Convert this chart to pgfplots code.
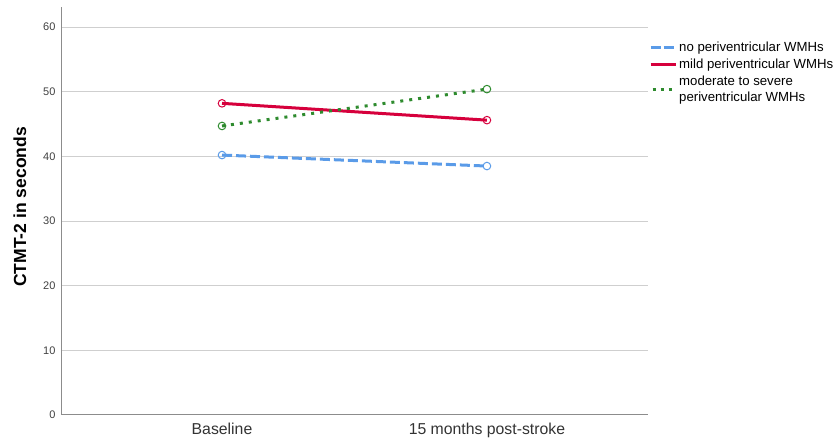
\documentclass[border=0pt]{standalone}
\usepackage{fontspec}
\setmainfont{Liberation Sans}
\usepackage{pgfplots}
\pgfplotsset{compat=1.18}
\definecolor{cblue}{HTML}{5A9BE8}
\definecolor{cred}{HTML}{D6003C}
\definecolor{cgreen}{HTML}{2E8B2E}
\definecolor{gridc}{HTML}{CFCFCF}
\definecolor{axc}{HTML}{8C8C8C}
\begin{document}
\begin{tikzpicture}
\useasboundingbox (-62pt,-26pt) rectangle (774pt,415pt);
\begin{axis}[
  at={(0pt,0pt)}, anchor=south west,
  scale only axis, width=586pt, height=408pt,
  xmin=-0.604, xmax=1.608, ymin=0, ymax=63.1,
  xtick={0,1}, xticklabels={Baseline,15 months post-stroke},
  ytick={0,10,20,30,40,50,60},
  axis x line*=bottom, axis y line*=left,
  axis line style={axc, line width=1pt},
  major tick length=0pt,
  ymajorgrids, grid style={gridc, line width=1pt},
  tick label style={font=\fontsize{11}{13}\selectfont, text=black!75},
  yticklabel style={xshift=-3pt},
  /pgf/number format/assume math mode=true,
  xticklabel style={font=\fontsize{15.8}{18}\selectfont, text=black!80, yshift=-5pt},
  ylabel={\textbf{CTMT-2 in seconds}},
  ylabel style={font=\fontsize{17.5}{20}\selectfont, at={(axis description cs:-0.072,0.51)}, anchor=center},
  legend style={draw=none, fill=none, at={(1.0,0.92)}, anchor=north west,
    font=\fontsize{13.2}{16.3}\selectfont, cells={align=left, anchor=west},
    row sep=3.8pt, inner sep=1pt,
    nodes={inner xsep=2pt, inner ysep=1pt}},
  legend image code/.code={\draw[#1] (0pt,0pt) -- (25pt,0pt);},
  legend cell align=left,
  clip=false,
]
\addlegendimage{cblue, line width=3pt, dash pattern=on 10pt off 3pt}
\addlegendentry{no periventricular WMHs}
\addlegendimage{cred, line width=3pt}
\addlegendentry{mild periventricular WMHs}
\addlegendimage{cgreen, line width=3pt, dash pattern=on 3pt off 5pt, dash phase=-2pt}
\addlegendentry{moderate to severe\\periventricular WMHs}
\addplot[forget plot, cblue, line width=3pt, dash pattern=on 10pt off 4pt, mark=o, mark size=3.8pt, mark options={solid, line width=1pt}]
  coordinates {(0,40.2) (1,38.5)};
\addplot[forget plot, cred, line width=3pt, mark=o, mark size=3.8pt, mark options={solid, line width=1pt}]
  coordinates {(0,48.2) (1,45.6)};
\addplot[forget plot, cgreen, line width=3pt, dash pattern=on 3pt off 6pt, mark=o, mark size=3.8pt, mark options={solid, line width=1pt}]
  coordinates {(0,44.7) (1,50.4)};
\end{axis}
\end{tikzpicture}
\end{document}
